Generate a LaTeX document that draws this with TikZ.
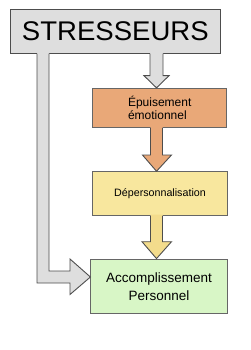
\documentclass[tikz,border=0pt]{standalone}
\usepackage{fontspec}
\setmainfont{Liberation Sans}
\usetikzlibrary{calc}
\definecolor{gfill}{HTML}{DEDEDE}
\definecolor{gline}{HTML}{4D4D4D}
\definecolor{ofill}{HTML}{E9A878}
\definecolor{yfill}{HTML}{F8E79E}
\definecolor{yarrow}{HTML}{F3DC8C}
\definecolor{grfill}{HTML}{D8F6C6}
\definecolor{bline}{HTML}{666666}
\tikzset{
  box/.style={draw=bline, line width=0.9pt, rectangle, inner sep=0pt, align=center},
  edge/.style={draw=gline, line width=0.9pt, line join=miter},
}
\begin{document}
\begin{tikzpicture}[x=1pt,y=-1pt]
\useasboundingbox (0,0) rectangle (250,350);
% boxes
\node[box, fill=gfill, minimum width=210.7pt, minimum height=43.3pt, draw=gline, font=\fontsize{27}{30}\selectfont] (s) at (115.3,31.6)
  {\scalebox{1.02}[1]{STRESSEURS}};
\node[box, fill=ofill, minimum width=134pt, minimum height=39.4pt, align=left, font=\fontsize{12}{13}\selectfont] (e) at (159.7,108)
  {Épuisement\\émotionnel};
\node[box, fill=yfill, minimum width=134.6pt, minimum height=44pt, font=\fontsize{10.7}{12}\selectfont] (d) at (160,193.7)
  {Dépersonnalisation};
\node[box, fill=grfill, minimum width=136.3pt, minimum height=54.3pt, font=\fontsize{13.5}{18}\selectfont] (a) at (159,286.2)
  {Accomplissement\\Personnel};
% arrow stresseurs -> epuisement
\fill[gfill] (150,52) -- (150,75.7) -- (144,75.7) -- (156.5,0 |- e.north) -- (169,75.7) -- (163,75.7) -- (163,52) -- cycle;
\draw[edge] (150,0 |- s.south) -- (150,75.7) -- (144,75.7) -- (156.5,0 |- e.north) -- (169,75.7) -- (163,75.7) -- (163,0 |- s.south);
% arrow epuisement -> depersonnalisation
\fill[ofill] (150.5,127) -- (150.5,155) -- (142.5,155) -- (156.5,0 |- d.north) -- (171.5,155) -- (162.5,155) -- (162.5,127) -- cycle;
\draw[edge] (150.5,0 |- e.south) -- (150.5,155) -- (142.5,155) -- (156.5,0 |- d.north) -- (171.5,155) -- (162.5,155) -- (162.5,0 |- e.south);
% arrow depersonnalisation -> accomplissement
\fill[yarrow] (150.5,214.7) -- (150.5,241.7) -- (142,241.7) -- (156.5,0 |- a.north) -- (171.5,241.7) -- (162.5,241.7) -- (162.5,214.7) -- cycle;
\draw[edge] (150.5,0 |- d.south) -- (150.5,241.7) -- (142,241.7) -- (156.5,0 |- a.north) -- (171.5,241.7) -- (162.5,241.7) -- (162.5,0 |- d.south);
% L arrow stresseurs -> accomplissement
\fill[gfill] (37,52) -- (37,283) -- (70,283) -- (70,294.5) -- (a.west |- 0,277) -- (70,259) -- (70,271) -- (49,271) -- (49,52) -- cycle;
\draw[edge] (37,0 |- s.south) -- (37,283) -- (70,283) -- (70,294.5) -- (a.west |- 0,277) -- (70,259) -- (70,271) -- (49,271) -- (49,0 |- s.south);
\end{tikzpicture}
\end{document}
